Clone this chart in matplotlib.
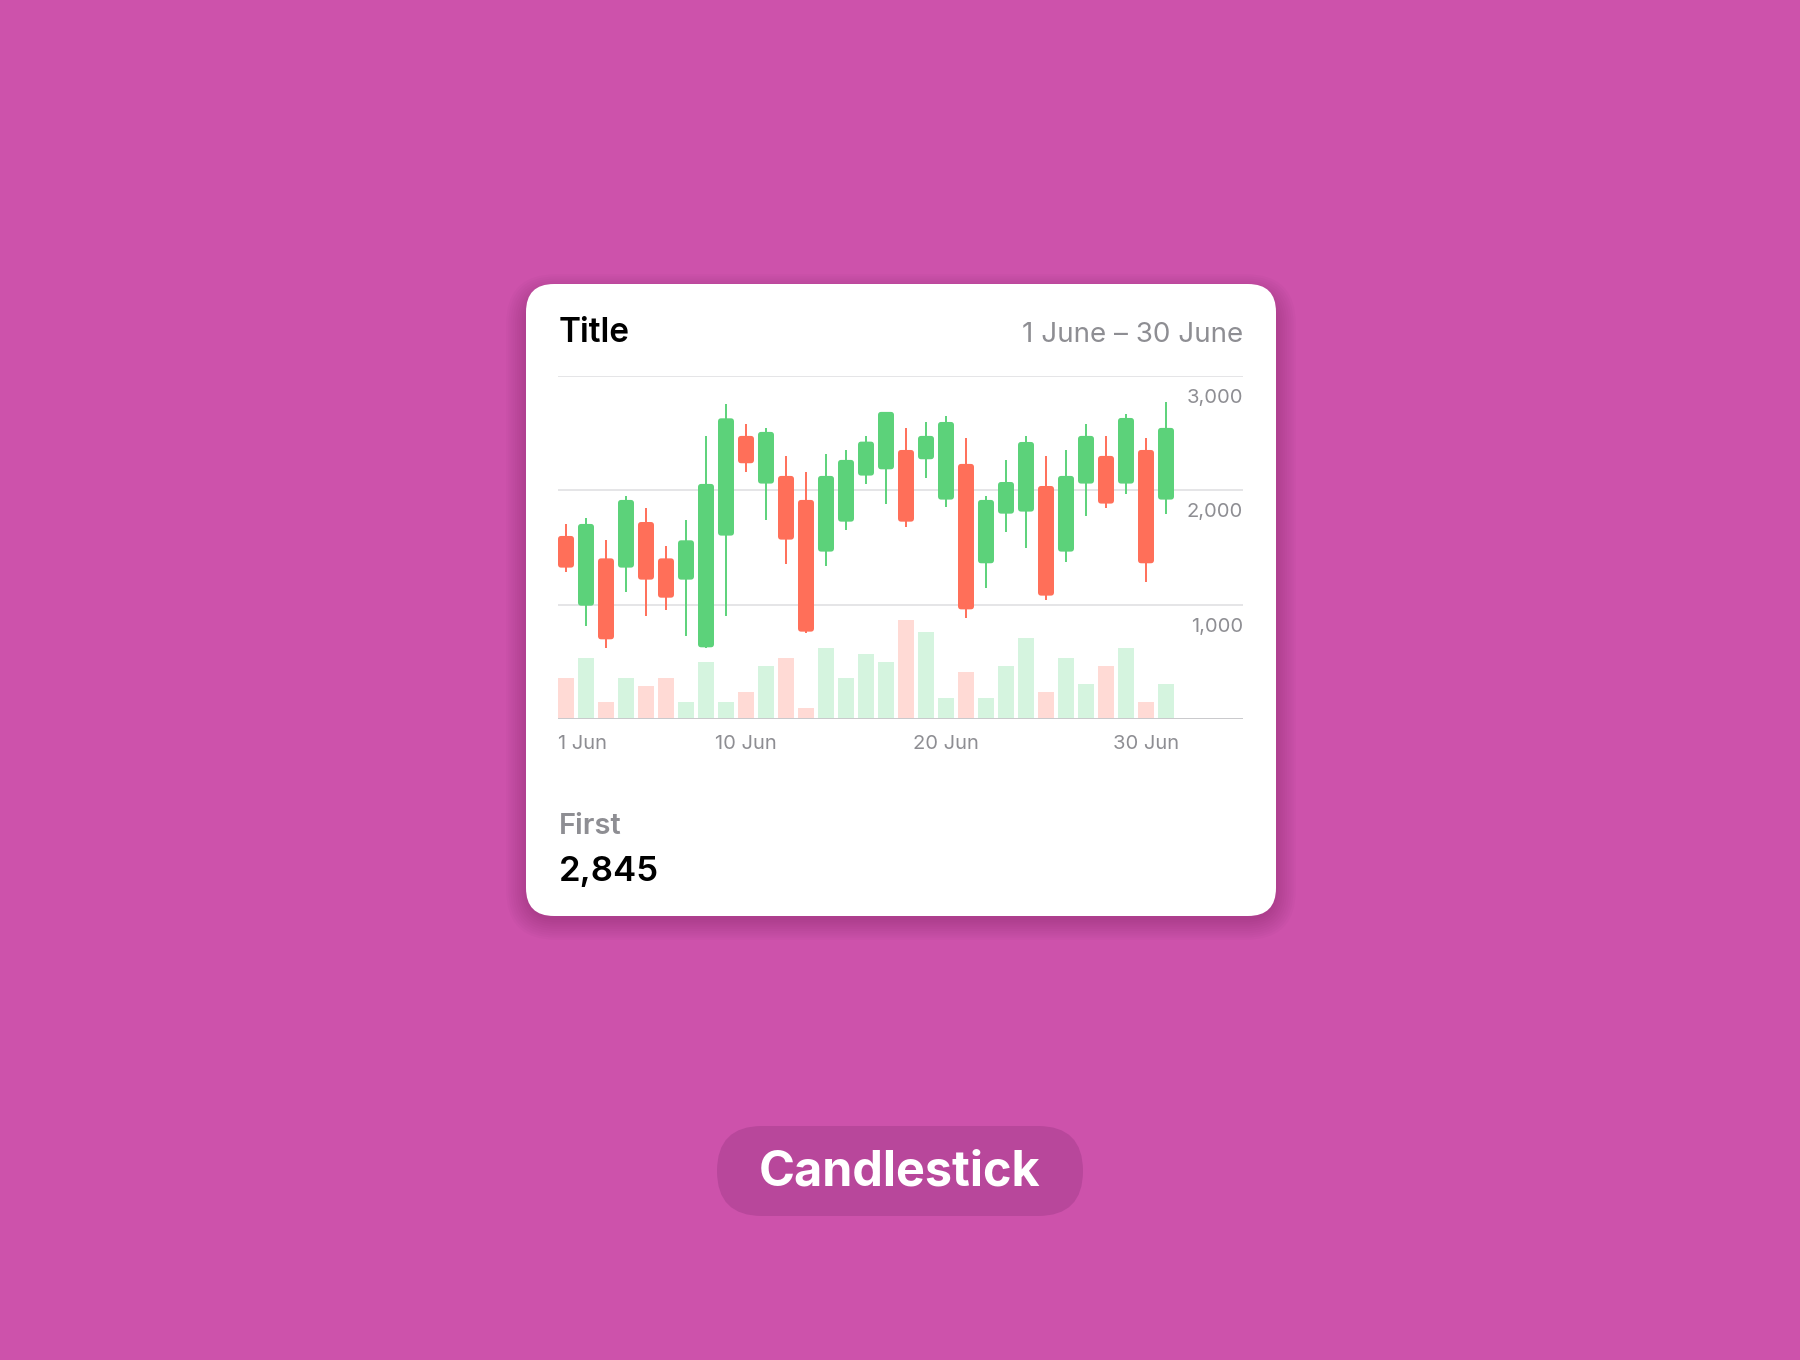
import numpy as np
import matplotlib
matplotlib.use("Agg")
import matplotlib.pyplot as plt
from matplotlib.patches import FancyBboxPatch, Rectangle
from matplotlib.transforms import blended_transform_factory, offset_copy

plt.rcParams['font.family'] = ['Inter', 'DejaVu Sans']

# ---- data ----
days = list(range(1, 32))
opens  = [1601, 991, 1405, 1324, 1723, 1405, 1219, 627, 1604, 2476, 2059, 2126, 1916, 1464, 1726, 2129,
          2184, 2353, 2272, 1919, 2231, 1362, 1796, 1814, 2038, 1464, 2059, 2301, 2059, 2353, 1919]
closes = [1324, 1706, 697, 1916, 1219, 1061, 1563, 2056, 2630, 2237, 2511, 1569, 764, 2126, 2266, 2426,
          2686, 1726, 2476, 2598, 959, 1916, 2073, 2423, 1079, 2126, 2476, 1884, 2633, 1362, 2546]
highs  = [1706, 1758, 1566, 1951, 1849, 1513, 1741, 2476, 2756, 2581, 2543, 2301, 2161, 2318, 2353, 2476,
          2686, 2546, 2598, 2651, 2458, 1951, 2266, 2476, 2301, 2353, 2581, 2476, 2668, 2458, 2773]
lows   = [1289, 814, 624, 1114, 901, 954, 726, 620, 901, 2164, 1741, 1356, 755, 1338, 1653, 2056,
          1884, 1677, 2111, 1852, 886, 1149, 1639, 1499, 1044, 1376, 1779, 1849, 1971, 1201, 1796]
volumes = [359, 534, 149, 359, 289, 359, 149, 499, 149, 236, 464, 534, 96, 621, 359, 569,
           499, 866, 761, 184, 411, 184, 464, 709, 236, 534, 306, 464, 621, 149, 306]

y_ticks = [1000, 2000, 3000]
y_tick_labels = ["1,000", "2,000", "3,000"]
x_tick_days = [1, 10, 20, 30]
x_tick_labels = ["1 Jun", "10 Jun", "20 Jun", "30 Jun"]

title = "Title"
date_range = "1 June \u2013 30 June"
stat_label = "First"
stat_value = "2,845"
badge = "Candlestick"

# ---- colours ----
BG = '#CD52AB'
PILL = '#B8479B'
GREEN = '#5CD27A'
RED = '#FF6F59'
GREEN_LIGHT = '#D5F4DF'
RED_LIGHT = '#FFDAD5'
GRAY_TEXT = '#8E8E93'
GRID = '#DEDEE0'

W, H = 1800, 1360
fig = plt.figure(figsize=(W / 100, H / 100), dpi=100)
fig.patch.set_facecolor(BG)

bg = fig.add_axes([0, 0, 1, 1])
bg.set_xlim(0, W)
bg.set_ylim(H, 0)
bg.axis('off')
bg.set_facecolor(BG)

# card shadow + card
cx0, cy0, cx1, cy1 = 526, 284, 1276, 916
for k in range(10):
    grow = 2 + k * 2.2
    bg.add_patch(FancyBboxPatch((cx0 - grow + 2, cy0 - grow + 12), (cx1 - cx0) + 2 * grow - 4,
                                (cy1 - cy0) + 2 * grow - 10,
                                boxstyle=f"round,pad=0,rounding_size={28 + grow}",
                                fc='#5a0a45', ec='none', alpha=0.028, zorder=1))
bg.add_patch(FancyBboxPatch((cx0, cy0), cx1 - cx0, cy1 - cy0,
                            boxstyle="round,pad=0,rounding_size=28",
                            fc='white', ec='none', zorder=2))

bg.text(559, 333, title, fontsize=24, fontweight='semibold', color='black',
        ha='left', va='center', zorder=3)
bg.text(1243, 335, date_range, fontsize=20, color=GRAY_TEXT,
        ha='right', va='center', zorder=3)
bg.text(559, 826, stat_label, fontsize=21, fontweight='semibold', color=GRAY_TEXT,
        ha='left', va='center', zorder=3)
bg.text(559, 872, stat_value, fontsize=25, fontweight='semibold', color='black',
        ha='left', va='center', zorder=3)

# badge
bg.add_patch(FancyBboxPatch((717, 1126), 366, 90,
                            boxstyle="round,pad=0,rounding_size=45",
                            fc=PILL, ec='none', zorder=2))
bg.text(900, 1172, badge, fontsize=35, fontweight='bold', color='white',
        ha='center', va='center', zorder=3)

# ---- chart ----
left, right, top, bottom = 558, 1243, 376, 719
ax = fig.add_axes([left / W, 1 - bottom / H, (right - left) / W, (bottom - top) / H])
ax.set_facecolor('none')
for s in ax.spines.values():
    s.set_visible(False)
ax.set_xticks([])
ax.set_yticks([])

px_per_day = 20.0
x_left = 1 - 0.4
x_right = x_left + (right - left) / px_per_day
ax.set_xlim(x_left, x_right)
ax.set_ylim(0, 3000)

for v in y_ticks:
    ax.axhline(v, color=GRID, lw=1.1, zorder=0)
ax.axhline(0, color='#C9C9CC', lw=1.4, zorder=4)

# y labels sit under their gridlines at the right edge
trans_y = blended_transform_factory(ax.transAxes, ax.transData)
trans_y = offset_copy(trans_y, fig=fig, x=0, y=-22, units='dots')
for v, lab in zip(y_ticks, y_tick_labels):
    ax.text(1.0, v, lab, transform=trans_y, ha='right', va='center',
            fontsize=14.5, color=GRAY_TEXT)

trans_x = blended_transform_factory(ax.transData, ax.transAxes)
trans_x = offset_copy(trans_x, fig=fig, x=0, y=-25, units='dots')
for d, lab in zip(x_tick_days, x_tick_labels):
    if d == days[0]:
        ax.text(x_left, 0, lab, transform=trans_x, ha='left', va='center',
                fontsize=14.5, color=GRAY_TEXT)
    else:
        ax.text(d, 0, lab, transform=trans_x, ha='center', va='center',
                fontsize=14.5, color=GRAY_TEXT)

body_w = 0.8
units_per_px_y = 3000 / (bottom - top)
units_per_px_x = 1 / px_per_day
aspect = units_per_px_y / units_per_px_x

for d, o, c, hi, lo, vol in zip(days, opens, closes, highs, lows, volumes):
    up = c >= o
    col = GREEN if up else RED
    light = GREEN_LIGHT if up else RED_LIGHT
    # volume bar
    ax.add_patch(Rectangle((d - body_w / 2, 0), body_w, vol, fc=light, ec='none', zorder=1))
    # wick
    ax.plot([d, d], [lo, hi], color=col, lw=1.4, solid_capstyle='butt', zorder=2)
    # body
    b0, b1 = min(o, c), max(o, c)
    ax.add_patch(FancyBboxPatch((d - body_w / 2, b0), body_w, b1 - b0,
                                boxstyle="round,pad=0,rounding_size=0.16",
                                mutation_aspect=aspect,
                                fc=col, ec='none', zorder=3))

fig.savefig('out.png', dpi=100, facecolor=BG)
